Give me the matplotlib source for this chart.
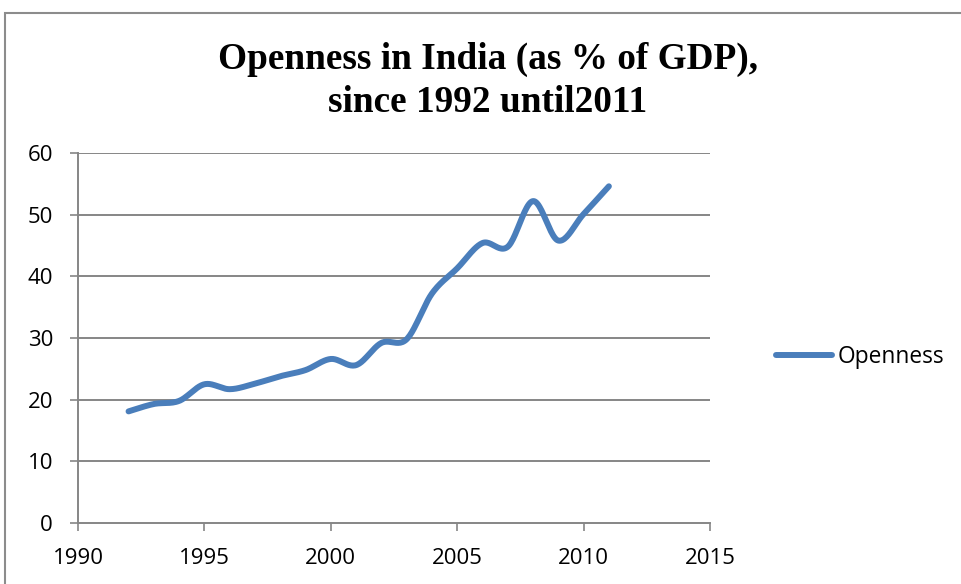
import numpy as np
import matplotlib
matplotlib.use("Agg")
import matplotlib.pyplot as plt
from matplotlib.patches import Rectangle
from matplotlib.lines import Line2D

years = [1992, 1993, 1994, 1995, 1996, 1997, 1998, 1999, 2000, 2001,
         2002, 2003, 2004, 2005, 2006, 2007, 2008, 2009, 2010, 2011]
openness = [18.1, 19.3, 19.8, 22.5, 21.7, 22.6, 23.8, 24.8, 26.6, 25.6,
            29.2, 29.8, 37.2, 41.3, 45.4, 44.8, 52.2, 45.8, 50.1, 54.6]
x_ticks = [1990, 1995, 2000, 2005, 2010, 2015]
y_ticks = [0, 10, 20, 30, 40, 50, 60]
series_name = "Openness"
title_text = "Openness in India (as % of GDP),\nsince 1992 until2011"

LINE_COLOR = "#4a7ebb"
GRID_COLOR = "#868686"


def smooth_curve(x, y, steps=24, tension=1 / 6):
    """Bezier-smoothed path through the points (spreadsheet-style smoothed line)."""
    x = np.asarray(x, float)
    y = np.asarray(y, float)
    n = len(x)
    xs, ys = [], []
    for i in range(n - 1):
        p0 = np.array([x[max(i - 1, 0)], y[max(i - 1, 0)]])
        p1 = np.array([x[i], y[i]])
        p2 = np.array([x[i + 1], y[i + 1]])
        p3 = np.array([x[min(i + 2, n - 1)], y[min(i + 2, n - 1)]])
        c1 = p1 + (p2 - p0) * tension
        c2 = p2 - (p3 - p1) * tension
        t = np.linspace(0, 1, steps, endpoint=(i == n - 2))[:, None]
        pts = ((1 - t) ** 3) * p1 + 3 * ((1 - t) ** 2) * t * c1 + 3 * (1 - t) * t ** 2 * c2 + t ** 3 * p2
        xs.append(pts[:, 0])
        ys.append(pts[:, 1])
    return np.concatenate(xs), np.concatenate(ys)


fig = plt.figure(figsize=(9.61, 5.84), dpi=100)
W, H = 961, 584

# chart-area border (runs off the right and bottom edges)
fig.patches.append(Rectangle((5 / W, -0.1), 1.2, (H - 13) / H + 0.1,
                             transform=fig.transFigure, fill=False,
                             edgecolor="#8c8c8c", linewidth=1.5))

ax = fig.add_axes([78 / W, (H - 523) / H, (710 - 78) / W, (523 - 153) / H])
ax.set_xlim(1990, 2015)
ax.set_ylim(0, 60)
ax.set_xticks(x_ticks)
ax.set_yticks(y_ticks)

for v in y_ticks[1:]:
    ax.axhline(v, color=GRID_COLOR, linewidth=1.4, zorder=1)

sx, sy = smooth_curve(years, openness)
ax.plot(sx, sy, color=LINE_COLOR, linewidth=4.3, solid_capstyle="round", zorder=3)

for side in ("top", "right"):
    ax.spines[side].set_visible(False)
for side in ("left", "bottom"):
    ax.spines[side].set_color(GRID_COLOR)
    ax.spines[side].set_linewidth(1.4)

ax.tick_params(axis="both", direction="out", length=6, width=1.2,
               color=GRID_COLOR, labelsize=16, pad=12)
for lbl in ax.get_xticklabels() + ax.get_yticklabels():
    lbl.set_fontfamily("Open Sans")

fig.text(488 / W, (H - 81) / H, title_text, ha="center", va="center",
         fontfamily="Liberation Serif", fontweight="bold", fontsize=26.8,
         linespacing=1.3)

# legend entry on the right
handle = Line2D([], [], color=LINE_COLOR, linewidth=4.3, solid_capstyle="round")
fig.legend([handle], [series_name], loc="center left",
           bbox_to_anchor=(776 / W, (H - 357) / H), frameon=False,
           borderaxespad=0, borderpad=0,
           handlelength=2.47, handletextpad=0.22,
           prop={"family": "Open Sans", "size": 16.4})

fig.savefig("out.png", dpi=100)
